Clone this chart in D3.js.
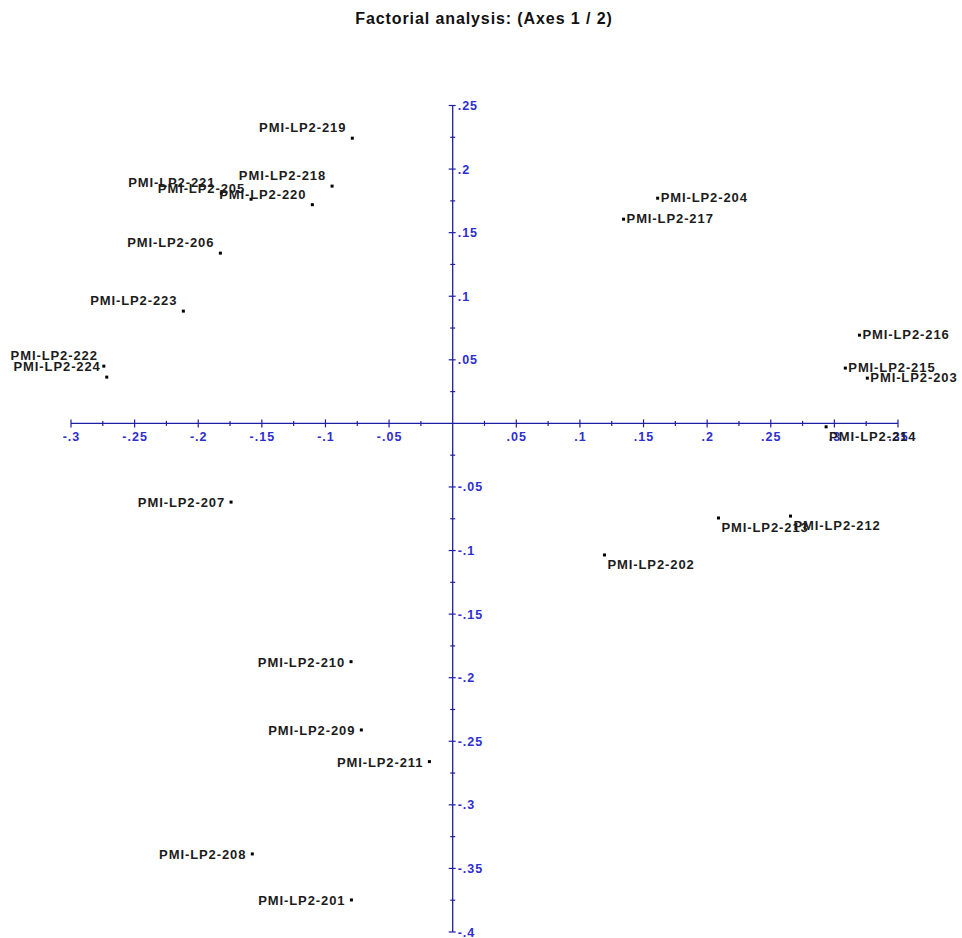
<!DOCTYPE html>
<html>
<head>
<meta charset="utf-8">
<script src="https://cdn.jsdelivr.net/npm/d3@7/dist/d3.min.js"></script>
<style>
  body { margin: 0; background: #fff; }
  svg { display: block; }
  .title { font: bold 16px "Liberation Sans", Arial, sans-serif; fill: #111; letter-spacing: 0.9px; }
  .tick-label { font: bold 12.5px "Liberation Sans", Arial, sans-serif; fill: #2e2ed0; letter-spacing: 1px; }
  .pt-label { font: bold 13px "Liberation Sans", Arial, sans-serif; fill: #1c1c1c; letter-spacing: 0.9px; }
</style>
</head>
<body>
<svg width="962" height="938"></svg>
<script>
// sample names and their coordinates on factorial axes 1 and 2
var samples = ["PMI-LP2-201", "PMI-LP2-202", "PMI-LP2-203", "PMI-LP2-204", "PMI-LP2-205",
               "PMI-LP2-206", "PMI-LP2-207", "PMI-LP2-208", "PMI-LP2-209", "PMI-LP2-210",
               "PMI-LP2-211", "PMI-LP2-212", "PMI-LP2-213", "PMI-LP2-214", "PMI-LP2-215",
               "PMI-LP2-216", "PMI-LP2-217", "PMI-LP2-218", "PMI-LP2-219", "PMI-LP2-220",
               "PMI-LP2-221", "PMI-LP2-222", "PMI-LP2-223", "PMI-LP2-224"];
var axis1 = [-0.0796, 0.1193, 0.3259, 0.1611, -0.1585,
             -0.1826, -0.1742, -0.1575, -0.0718, -0.0799,
             -0.0183, 0.2655, 0.2089, 0.2935, 0.3086,
             0.3197, 0.1343, -0.0948, -0.0789, -0.1103,
             -0.1818, -0.2742, -0.2117, -0.2719];
var axis2 = [-0.3748, -0.1035, 0.0356, 0.1771, 0.1763,
             0.1339, -0.0619, -0.3386, -0.2411, -0.1874,
             -0.2660, -0.0729, -0.0744, -0.0027, 0.0435,
             0.0694, 0.1606, 0.1866, 0.2243, 0.1720,
             0.1810, 0.0450, 0.0883, 0.0364];

var xTicks = [-0.3, -0.25, -0.2, -0.15, -0.1, -0.05, 0.05, 0.1, 0.15, 0.2, 0.25, 0.3, 0.35];
var yTicks = [0.25, 0.2, 0.15, 0.1, 0.05, -0.05, -0.1, -0.15, -0.2, -0.25, -0.3, -0.35, -0.4];
var xMinor = [-0.275, -0.225, -0.175, -0.125, -0.075, -0.025, 0.025, 0.075, 0.125, 0.175, 0.225, 0.275, 0.325];
var yMinor = [0.225, 0.175, 0.125, 0.075, 0.025, -0.025, -0.075, -0.125, -0.175, -0.225, -0.275, -0.325, -0.375];

var svg = d3.select("svg");
var axisColor = "#1f1fa6";

var x = d3.scaleLinear().domain([-0.3, 0.35]).range([71, 898]);
var y = d3.scaleLinear().domain([-0.4, 0.25]).range([932, 105.5]);

// ".25" style labels, no leading zero
function fmt(v) {
  var s = d3.format(".2~f")(Math.abs(v)).replace(/^0\./, ".");
  return (v < 0 ? "-" : "") + s;
}

svg.append("text")
    .attr("class", "title")
    .attr("x", 484)
    .attr("y", 24)
    .attr("text-anchor", "middle")
    .text("Factorial analysis: (Axes 1 / 2)");

// horizontal axis through y = 0
var gx = svg.append("g");
gx.append("line")
    .attr("x1", x(-0.3)).attr("x2", x(0.35))
    .attr("y1", y(0)).attr("y2", y(0))
    .attr("stroke", axisColor).attr("stroke-width", 1.3);
gx.selectAll(".maj").data(xTicks).enter().append("line")
    .attr("x1", d => x(d)).attr("x2", d => x(d))
    .attr("y1", y(0) - 4).attr("y2", y(0) + 4)
    .attr("stroke", axisColor).attr("stroke-width", 1.2);
gx.selectAll(".min").data(xMinor).enter().append("line")
    .attr("x1", d => x(d)).attr("x2", d => x(d))
    .attr("y1", y(0) - 2.5).attr("y2", y(0) + 2.5)
    .attr("stroke", axisColor).attr("stroke-width", 1.2);
gx.selectAll("text").data(xTicks).enter().append("text")
    .attr("class", "tick-label")
    .attr("x", d => x(d) + 0.5)
    .attr("y", y(0) + 18)
    .attr("text-anchor", "middle")
    .text(fmt);

// vertical axis through x = 0
var gy = svg.append("g");
gy.append("line")
    .attr("x1", x(0)).attr("x2", x(0))
    .attr("y1", y(0.25)).attr("y2", y(-0.4))
    .attr("stroke", axisColor).attr("stroke-width", 1.3);
gy.selectAll(".maj").data(yTicks).enter().append("line")
    .attr("x1", x(0) - 4).attr("x2", x(0) + 3)
    .attr("y1", d => y(d)).attr("y2", d => y(d))
    .attr("stroke", axisColor).attr("stroke-width", 1.2);
gy.selectAll(".min").data(yMinor).enter().append("line")
    .attr("x1", x(0) - 2.5).attr("x2", x(0) + 2.5)
    .attr("y1", d => y(d)).attr("y2", d => y(d))
    .attr("stroke", axisColor).attr("stroke-width", 1.2);
gy.selectAll("text").data(yTicks).enter().append("text")
    .attr("class", "tick-label")
    .attr("x", x(0) + 5)
    .attr("y", d => y(d) + 4.5)
    .text(fmt);

// points and their names; label side depends on the quadrant
var pts = samples.map(function(name, i) { return {name: name, a: axis1[i], b: axis2[i]}; });

var g = svg.append("g");
g.selectAll("rect").data(pts).enter().append("rect")
    .attr("x", d => x(d.a) - 1.5)
    .attr("y", d => y(d.b) - 1.5)
    .attr("width", 3).attr("height", 3)
    .attr("fill", "#000");

g.selectAll("text").data(pts).enter().append("text")
    .attr("class", "pt-label")
    .attr("text-anchor", d => d.a < 0 ? "end" : "start")
    .attr("x", d => x(d.a) + (d.a < 0 ? -6 : 3))
    .attr("y", d => {
      var cy = y(d.b);
      if (d.a < 0 && d.b > 0) return cy - 11 + 5;
      if (d.a < 0) return cy + 5;
      if (d.b > 0) return cy - 1 + 5;
      return cy + 9 + 5;
    })
    .text(d => d.name);
</script>
</body>
</html>
